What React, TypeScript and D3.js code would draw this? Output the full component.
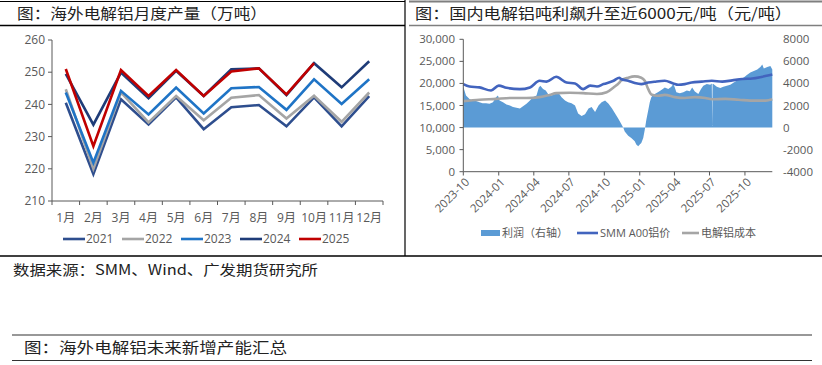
import React from "react";
import * as d3 from "d3";

// ---------- Left chart data ----------
const months = ["1月", "2月", "3月", "4月", "5月", "6月", "7月", "8月", "9月", "10月", "11月", "12月"];
const years = ["2021", "2022", "2023", "2024", "2025"];
const prod2021 = [240.5, 218.4, 241.6, 233.8, 242.2, 232.3, 239.1, 239.8, 233.2, 242.2, 233.2, 242.6];
const prod2022 = [244.7, 220.0, 243.7, 234.4, 242.6, 235.1, 242.1, 242.9, 235.6, 242.7, 234.6, 243.7];
const prod2023 = [243.7, 221.9, 244.2, 236.9, 245.2, 237.2, 245.0, 245.4, 238.3, 247.8, 240.1, 247.8];
const prod2024 = [249.5, 233.7, 249.9, 241.9, 250.4, 242.6, 250.9, 251.2, 242.9, 252.8, 245.3, 253.4];
const prod2025 = [251.0, 227.0, 250.7, 242.6, 250.7, 242.6, 250.2, 251.2, 243.1, 252.8];
const leftTicks = [210, 220, 230, 240, 250, 260];
const yearColors = ["#2E4E8E", "#A5A5A5", "#1F74C6", "#1F3C78", "#C00000"];

// ---------- Right chart data ----------
const profitDates = [
  "2023-10-01", "2023-10-08", "2023-10-17", "2023-10-25", "2023-11-03", "2023-11-12", "2023-11-20", "2023-11-29",
  "2023-12-08", "2023-12-17", "2023-12-25", "2023-12-30", "2024-01-03", "2024-01-12", "2024-01-21", "2024-01-30",
  "2024-02-07", "2024-02-16", "2024-02-25", "2024-03-04", "2024-03-13", "2024-03-22", "2024-03-30", "2024-04-08",
  "2024-04-14", "2024-04-18", "2024-04-25", "2024-05-02", "2024-05-08", "2024-05-17", "2024-05-26", "2024-06-03",
  "2024-06-12", "2024-06-21", "2024-06-29", "2024-07-08", "2024-07-17", "2024-07-25", "2024-08-03", "2024-08-12",
  "2024-08-21", "2024-08-29", "2024-09-07", "2024-09-16", "2024-09-24", "2024-10-03", "2024-10-12", "2024-10-21",
  "2024-10-29", "2024-11-06", "2024-11-13", "2024-11-19", "2024-11-23", "2024-12-02", "2024-12-10", "2024-12-19",
  "2024-12-23", "2024-12-28", "2025-01-01", "2025-01-05", "2025-01-10", "2025-01-14", "2025-01-18", "2025-01-23",
  "2025-01-27", "2025-01-31", "2025-02-05", "2025-02-09", "2025-02-17", "2025-02-26", "2025-03-07", "2025-03-16",
  "2025-03-24", "2025-03-29", "2025-04-02", "2025-04-06", "2025-04-15", "2025-04-24", "2025-05-03", "2025-05-11",
  "2025-05-17", "2025-05-24", "2025-06-02", "2025-06-09", "2025-06-15", "2025-06-24", "2025-07-03", "2025-07-07",
  "2025-07-08", "2025-07-09", "2025-07-11", "2025-07-20", "2025-07-29", "2025-08-06", "2025-08-15", "2025-08-24",
  "2025-09-02", "2025-09-10", "2025-09-19", "2025-09-28", "2025-10-06", "2025-10-15", "2025-10-24", "2025-11-02",
  "2025-11-10", "2025-11-15", "2025-11-19", "2025-11-28", "2025-12-06", "2025-12-11",
];
const profitValues = [
  3700, 2900, 2600, 2460, 2400, 2300, 2200, 2200,
  2160, 2300, 2750, 2900, 2460, 2300, 2100, 2000,
  1870, 1800, 1720, 1930, 2160, 2460, 2750, 2900,
  3640, 3800, 3500, 3350, 3050, 2900, 3050, 3200,
  2750, 2460, 2300, 2200, 2000, 1270, 1040, 1200,
  1720, 1870, 1420, 2000, 2300, 2460, 2160, 1720,
  1270, 830, 385, 0, -355, -740, -950, -1240,
  -1540, -1690, -1540, -1390, -950, -200, 680, 1570,
  2300, 2750, 3000, 3050, 3200, 3400, 3640, 3500,
  3700, 3940, 3640, 3200, 3110, 3200, 3350, 3290,
  3640, 3260, 3050, 3500, 3790, 3940, 3880, 4000,
  150, 3950, 3940, 3700, 3580, 3700, 3790, 3880,
  4090, 4240, 4380, 4530, 4770, 4980, 5130, 5270,
  5480, 5720, 5360, 5480, 5570, 5270,
];
const priceDates = [
  "2023-10-01", "2023-10-17", "2023-11-12", "2023-12-12", "2024-01-01", "2024-01-21", "2024-02-25", "2024-03-22",
  "2024-04-16", "2024-05-04", "2024-05-29", "2024-06-25", "2024-07-17", "2024-08-07", "2024-08-25", "2024-09-12",
  "2024-09-29", "2024-10-25", "2024-11-09", "2024-11-13", "2024-12-02", "2024-12-19", "2025-01-05", "2025-01-23",
  "2025-02-09", "2025-03-07", "2025-03-29", "2025-04-11", "2025-04-28", "2025-05-16", "2025-06-11", "2025-07-07",
  "2025-08-03", "2025-08-29", "2025-09-24", "2025-10-20", "2025-11-15", "2025-12-11",
];
const priceValues = [
  19850, 19300, 19100, 18400, 19500, 19000, 18700, 19100,
  20600, 20400, 21500, 20200, 20000, 18700, 19500, 19300,
  19850, 20600, 21300, 21000, 20600, 20100, 19850, 20200,
  20400, 20600, 20000, 19700, 19850, 20200, 20400, 20600,
  20400, 20700, 21000, 21100, 21500, 22000,
];
const costDates = [
  "2023-10-01", "2023-11-12", "2023-12-25", "2024-01-30", "2024-03-13", "2024-04-16", "2024-05-12", "2024-05-29",
  "2024-07-03", "2024-08-07", "2024-09-12", "2024-10-07", "2024-10-25", "2024-11-09", "2024-11-13", "2024-12-02",
  "2024-12-19", "2025-01-05", "2025-01-14", "2025-01-23", "2025-01-31", "2025-02-17", "2025-03-07", "2025-04-02",
  "2025-04-28", "2025-05-24", "2025-06-20", "2025-07-07", "2025-08-11", "2025-09-15", "2025-10-28", "2025-11-24",
  "2025-12-11",
];
const costValues = [
  16000, 16300, 16500, 16700, 16700, 16900, 17400, 17800,
  17900, 17800, 17600, 18000, 19100, 20200, 20600, 21300,
  21600, 21300, 20600, 18700, 17500, 17200, 17400, 16900,
  16700, 16900, 16700, 16400, 16500, 16300, 16100, 16100,
  16400,
];
const rightTickLabels = ["2023-10", "2024-01", "2024-04", "2024-07", "2024-10", "2025-01", "2025-04", "2025-07", "2025-10"];
const leftAxisTicks = [0, 5000, 10000, 15000, 20000, 25000, 30000];
const rightAxisTicks = [-4000, -2000, 0, 2000, 4000, 6000, 8000];
const rightLegend = ["利润（右轴）", "SMM A00铝价", "电解铝成本"];

const LATIN = "'Open Sans','Noto Sans CJK SC',sans-serif";
const CJK = "'Noto Sans CJK SC',sans-serif";

function LeftChart() {
  const x = d3.scaleBand<string>().domain(months).range([52, 383]);
  const y = d3.scaleLinear().domain([210, 260]).range([201, 40]);
  const series = [prod2021, prod2022, prod2023, prod2024, prod2025];
  const line = d3
    .line<number>()
    .x((_, i) => (x(months[i]) as number) + x.bandwidth() / 2)
    .y((d) => y(d));
  const bounds = months.map((m) => x(m) as number).concat([x.range()[1]]);
  return (
    <g>
      {/* axes */}
      <line x1={52} x2={52} y1={y(260)} y2={y(210)} stroke="#595959" strokeWidth={1} />
      <line x1={52} x2={383} y1={y(210)} y2={y(210)} stroke="#595959" strokeWidth={1} />
      {leftTicks.map((t) => (
        <g key={t}>
          <line x1={48} x2={52} y1={y(t)} y2={y(t)} stroke="#595959" />
          <text x={45} y={y(t)} dy="0.35em" textAnchor="end" fontSize={12} fill="#595959" fontFamily={LATIN}>
            {t}
          </text>
        </g>
      ))}
      {bounds.map((b, i) => (
        <line key={i} x1={b} x2={b} y1={y(210)} y2={y(210) + 4} stroke="#595959" />
      ))}
      {months.map((m) => (
        <text key={m} x={(x(m) as number) + x.bandwidth() / 2} y={218} dy="0.35em" textAnchor="middle" fontSize={12} fill="#595959" fontFamily={LATIN}>
          {m}
        </text>
      ))}
      {series.map((s, i) => (
        <path key={i} d={line(s) || ""} fill="none" stroke={yearColors[i]} strokeWidth={2.6} strokeLinejoin="miter" />
      ))}
      {/* legend */}
      {years.map((yr, i) => {
        const lx = 63 + i * 59;
        return (
          <g key={yr}>
            <line x1={lx} x2={lx + 22} y1={239} y2={239} stroke={yearColors[i]} strokeWidth={2.6} />
            <text x={lx + 23} y={239} dy="0.35em" fontSize={12} fill="#595959" fontFamily={LATIN}>
              {yr}
            </text>
          </g>
        );
      })}
    </g>
  );
}

function RightChart() {
  const parse = d3.timeParse("%Y-%m-%d");
  const parseM = d3.timeParse("%Y-%m");
  const x = d3
    .scaleTime()
    .domain([parse("2023-10-01") as Date, parse("2025-12-11") as Date])
    .range([463.3, 772.3]);
  const yL = d3.scaleLinear().domain([0, 30000]).range([171.7, 39.3]);
  const yR = d3.scaleLinear().domain([-4000, 8000]).range([171.7, 39.3]);
  const area = d3
    .area<number>()
    .x((_, i) => x(parse(profitDates[i]) as Date))
    .y0(yR(0))
    .y1((d) => yR(d));
  const priceLine = d3
    .line<number>()
    .x((_, i) => x(parse(priceDates[i]) as Date))
    .y((d) => yL(d))
    .curve(d3.curveMonotoneX);
  const costLine = d3
    .line<number>()
    .x((_, i) => x(parse(costDates[i]) as Date))
    .y((d) => yL(d))
    .curve(d3.curveMonotoneX);
  const fmt = d3.format(",");
  return (
    <g>
      <path d={area(profitValues) || ""} fill="#5B9BD5" />
      <path d={costLine(costValues) || ""} fill="none" stroke="#A5A5A5" strokeWidth={2.6} />
      <path d={priceLine(priceValues) || ""} fill="none" stroke="#4264BE" strokeWidth={2.6} />
      {/* axes */}
      <line x1={463.3} x2={463.3} y1={39.3} y2={171.7} stroke="#595959" />
      <line x1={463.3} x2={772.3} y1={171.7} y2={171.7} stroke="#595959" />
      {leftAxisTicks.map((t) => (
        <g key={t}>
          <line x1={459.5} x2={463.3} y1={yL(t)} y2={yL(t)} stroke="#595959" />
          <text x={455} y={yL(t)} dy="0.35em" textAnchor="end" fontSize={11.5} fill="#595959" fontFamily={LATIN}>
            {fmt(t)}
          </text>
        </g>
      ))}
      {rightAxisTicks.map((t) => (
        <text key={t} x={783} y={yR(t)} dy="0.35em" textAnchor="start" fontSize={11.5} fill="#595959" fontFamily={LATIN}>
          {t}
        </text>
      ))}
      {rightTickLabels.map((lab) => {
        const tx = x(parseM(lab) as Date);
        return (
          <g key={lab}>
            <line x1={tx} x2={tx} y1={171.7} y2={175.5} stroke="#595959" />
            <text
              transform={`translate(${tx + 4},${180}) rotate(-45)`}
              textAnchor="end"
              dy="0.35em"
              fontSize={11.5}
              fill="#595959"
              fontFamily={LATIN}
            >
              {lab}
            </text>
          </g>
        );
      })}
      {/* legend */}
      <rect x={481} y={230} width={19} height={6} fill="#5B9BD5" />
      <text x={502} y={233} dy="0.35em" fontSize={11} fill="#595959" fontFamily={LATIN}>
        {rightLegend[0]}
      </text>
      <line x1={577} x2={598} y1={233} y2={233} stroke="#4264BE" strokeWidth={2.6} />
      <text x={600} y={233} dy="0.35em" fontSize={11} fill="#595959" fontFamily={LATIN}>
        {rightLegend[1]}
      </text>
      <line x1={682} x2={699} y1={233} y2={233} stroke="#A5A5A5" strokeWidth={2.6} />
      <text x={701} y={233} dy="0.35em" fontSize={11} fill="#595959" fontFamily={LATIN}>
        {rightLegend[2]}
      </text>
    </g>
  );
}

export default function App() {
  return (
    <svg
      width={822}
      height={365}
      viewBox="0 0 822 365"
      style={{ position: "absolute", left: 0, top: 0, background: "#fff" }}
    >
      <rect x={0} y={0} width={822} height={365} fill="#fff" />
      {/* left panel frame */}
      <line x1={0} x2={405} y1={1.5} y2={1.5} stroke="#000" strokeWidth={1.2} />
      <line x1={0} x2={405} y1={25.5} y2={25.5} stroke="#000" strokeWidth={1.5} />
      <line x1={405} x2={405} y1={0} y2={256} stroke="#000" strokeWidth={1.2} />
      <text x={17} y={14} dy="0.35em" fontSize={15} fill="#222" fontFamily={CJK} textLength={250} lengthAdjust="spacingAndGlyphs">
        图：海外电解铝月度产量（万吨）
      </text>
      {/* right panel frame */}
      <line x1={409} x2={822} y1={1.5} y2={1.5} stroke="#7F7F7F" strokeWidth={2} />
      <line x1={409} x2={822} y1={25.5} y2={25.5} stroke="#7F7F7F" strokeWidth={1.5} />
      <text x={415} y={14} dy="0.35em" fontSize={15} fill="#222" fontFamily={CJK} textLength={377} lengthAdjust="spacingAndGlyphs">
        图：国内电解铝吨利飙升至近6000元/吨（元/吨）
      </text>
      <line x1={0} x2={822} y1={256} y2={256} stroke="#000" strokeWidth={1.5} />
      <LeftChart />
      <RightChart />
      {/* footer */}
      <text x={13} y={270} dy="0.35em" fontSize={14} fill="#222" fontFamily={CJK} textLength={305} lengthAdjust="spacingAndGlyphs">
        数据来源：SMM、Wind、广发期货研究所
      </text>
      <line x1={12} x2={812} y1={335} y2={335} stroke="#333" strokeWidth={1.2} />
      <text x={24} y={348} dy="0.35em" fontSize={15} fill="#222" fontFamily={CJK} textLength={263} lengthAdjust="spacingAndGlyphs">
        图：海外电解铝未来新增产能汇总
      </text>
      <line x1={12} x2={812} y1={360.5} y2={360.5} stroke="#333" strokeWidth={1.2} />
    </svg>
  );
}
